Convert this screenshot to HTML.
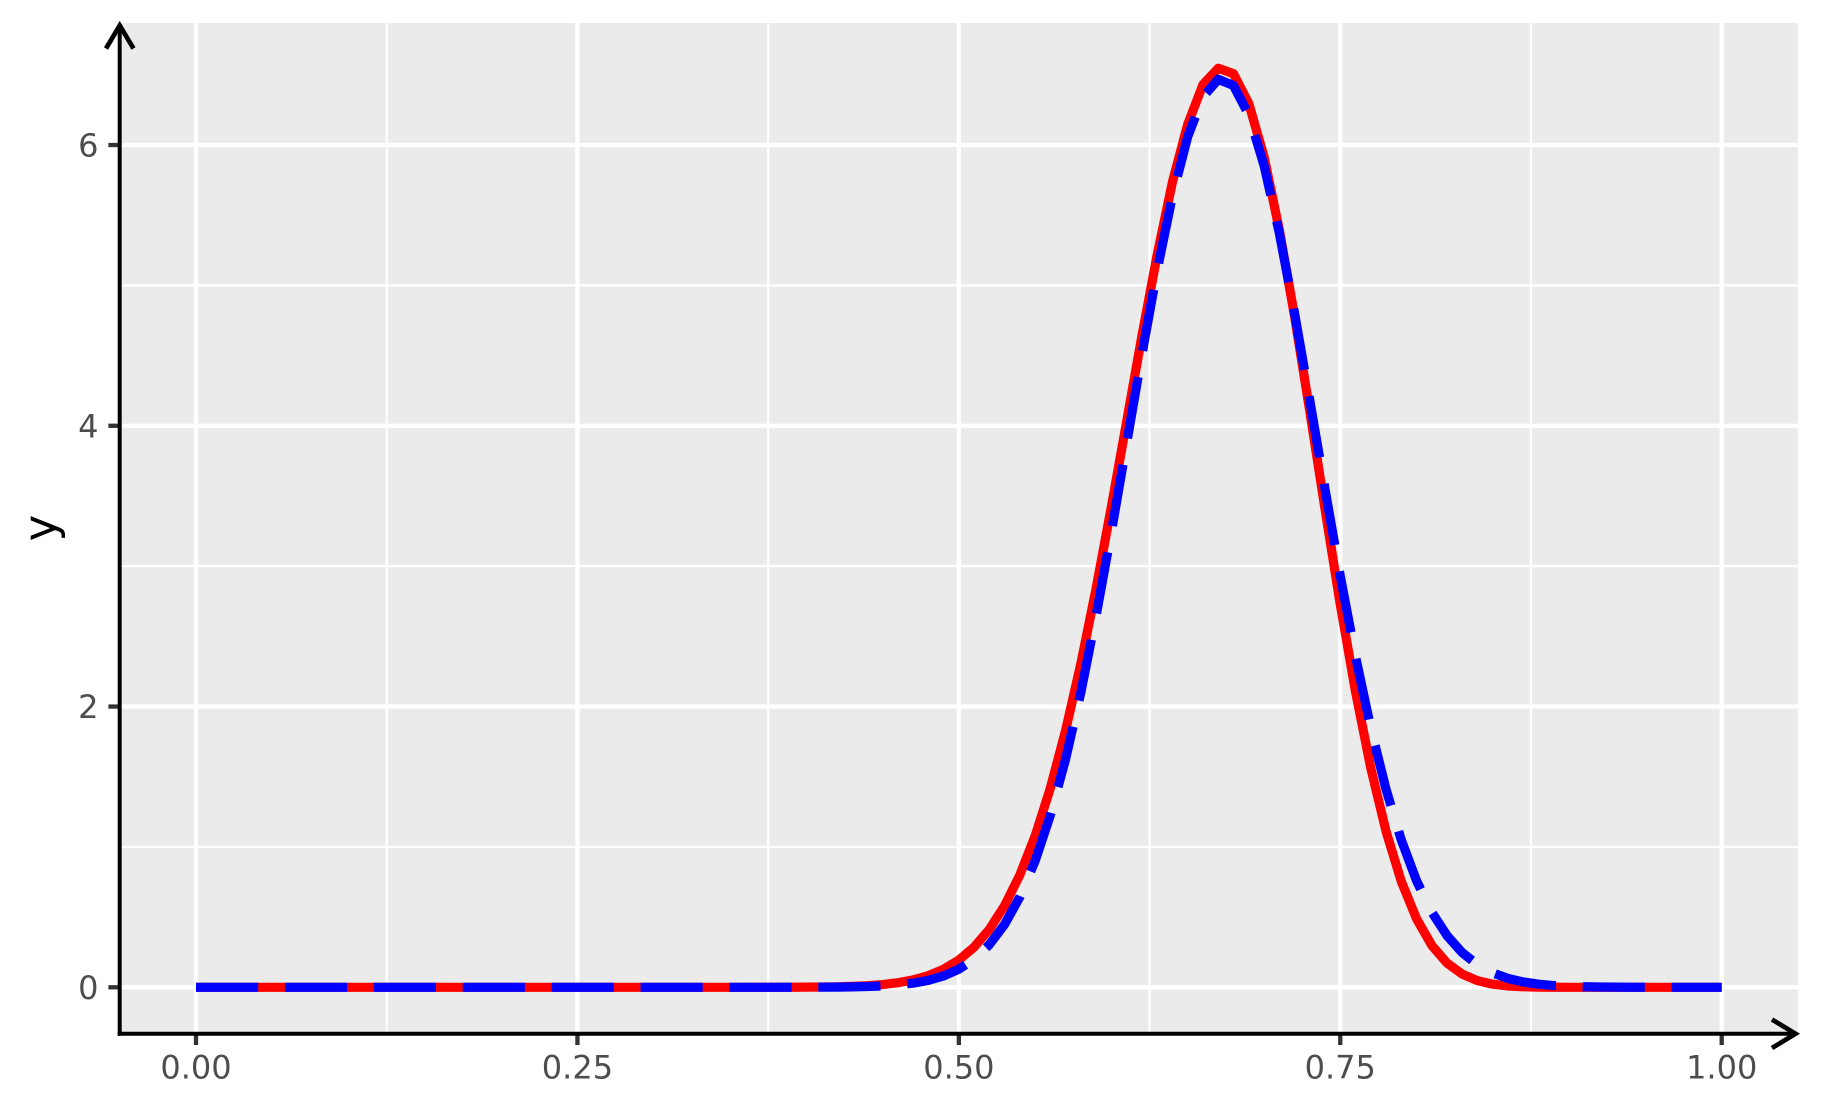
<!DOCTYPE html>
<html lang="en">
<head>
<meta charset="utf-8">
<title>Density curves</title>
<style>
html,body{margin:0;padding:0;background:#fff;width:1821px;height:1112px;overflow:hidden}
svg{display:block}
text{font-family:"DejaVu Sans","Liberation Sans",sans-serif}
</style>
</head>
<body>
<svg id="chart" xmlns="http://www.w3.org/2000/svg" width="1821" height="1112" viewBox="0 0 1821 1112">
  <rect x="0" y="0" width="1821" height="1112" fill="#ffffff"/>
  <rect x="119.7" y="23" width="1678.3" height="1010.7" fill="#ebebeb"/>
  <g id="grid-minor"></g>
  <g id="grid-major"></g>
  <g id="series"></g>
  <g id="ticks"></g>
  <g id="labels"></g>
  <g fill="none" stroke="#000" stroke-width="4">
    <line x1="119.7" y1="1035.7" x2="119.7" y2="26"/>
    <polyline points="106,48.5 119.7,25.5 133.5,48.5" stroke-width="4.7"/>
  </g>
  <g fill="none" stroke="#000" stroke-width="4">
    <line x1="117.7" y1="1033.7" x2="1794" y2="1033.7"/>
    <polyline points="1772,1019.5 1795.5,1033.7 1772,1048" stroke-width="4.7"/>
  </g>
  <text transform="translate(55.3,528) rotate(-90)" text-anchor="middle" font-size="45" fill="#000">y</text>
</svg>
<script>
const xValues = [0,0.01,0.02,0.03,0.04,0.05,0.06,0.07,0.08,0.09,0.1,0.11,0.12,0.13,0.14,0.15,0.16,0.17,0.18,0.19,0.2,0.21,0.22,0.23,0.24,0.25,0.26,0.27,0.28,0.29,0.3,0.31,0.32,0.33,0.34,0.35,0.36,0.37,0.38,0.39,0.4,0.41,0.42,0.43,0.44,0.45,0.46,0.47,0.48,0.49,0.5,0.51,0.52,0.53,0.54,0.55,0.56,0.57,0.58,0.59,0.6,0.61,0.62,0.63,0.64,0.65,0.66,0.67,0.68,0.69,0.7,0.71,0.72,0.73,0.74,0.75,0.76,0.77,0.78,0.79,0.8,0.81,0.82,0.83,0.84,0.85,0.86,0.87,0.88,0.89,0.9,0.91,0.92,0.93,0.94,0.95,0.96,0.97,0.98,0.99,1];
const redValues = [0,0,0,0,0,0,0,0,0,0,0,0,0,0,0,0,0,0,0,0,0,0,0,0,0,0,0,0,0,0,0,0,0,0,0,0.00003,0.00006,0.00012,0.00026,0.00053,0.00103,0.00196,0.00362,0.00652,0.01142,0.0195,0.0324,0.0526,0.0832,0.1286,0.1941,0.2862,0.4127,0.5816,0.8009,1.078,1.42,1.831,2.307,2.843,3.425,4.031,4.641,5.218,5.737,6.147,6.43,6.547,6.508,6.297,5.918,5.398,4.783,4.104,3.407,2.727,2.106,1.562,1.111,0.754,0.488,0.298,0.172,0.0934,0.0471,0.0219,0.0093,0.0036,0.0012,0.00036,0.00009,0.00002,0,0,0,0,0,0,0,0,0];
const blueValues = [0,0,0,0,0,0,0,0,0,0,0,0,0,0,0,0,0,0,0,0,0,0,0,0,0,0,0,0,0,0,0,0,0,0,0,0,0,0.00005,0.0001,0.0002,0.00037,0.00075,0.00148,0.00283,0.00528,0.00961,0.017,0.0294,0.0495,0.0811,0.1293,0.2008,0.304,0.448,0.644,0.9,1.227,1.627,2.103,2.648,3.246,3.875,4.508,5.108,5.637,6.059,6.343,6.468,6.424,6.215,5.856,5.375,4.804,4.182,3.548,2.93,2.357,1.847,1.41,1.049,0.759,0.535,0.368,0.246,0.16,0.102,0.0629,0.0379,0.0223,0.0127,0.0071,0.0038,0.002,0.001,0.0005,0.0003,0.0001,0.0001,0,0,0];
const xTickValues = [0,0.25,0.5,0.75,1];
const xTickLabels = ["0.00","0.25","0.50","0.75","1.00"];
const xMinorValues = [0.125,0.375,0.625,0.875];
const yTickValues = [0,2,4,6];
const yTickLabels = ["0","2","4","6"];
const yMinorValues = [1,3,5];

const NS = 'http://www.w3.org/2000/svg';
const panel = {left:119.7, right:1798, top:23, bottom:1033.7};
function xScale(v){ return 196 + v * 1525.7; }
function yScale(v){ return 987.3 - v * 140.38; }

function svgEl(tag, parent){
  const el = document.createElementNS(NS, tag);
  parent.appendChild(el);
  return el;
}
function setLine(el, x1, y1, x2, y2, stroke, width){
  el.setAttribute('x1', x1);
  el.setAttribute('y1', y1);
  el.setAttribute('x2', x2);
  el.setAttribute('y2', y2);
  el.setAttribute('stroke', stroke);
  el.setAttribute('stroke-width', width);
}

const gridMinor = document.getElementById('grid-minor');
const gridMajor = document.getElementById('grid-major');
const ticks = document.getElementById('ticks');
const labels = document.getElementById('labels');
const series = document.getElementById('series');

xMinorValues.forEach(function(v){
  const l = svgEl('line', gridMinor);
  
  
  setLine(l, xScale(v), panel.top, xScale(v), panel.bottom, '#ffffff', 2.2);
});
yMinorValues.forEach(function(v){
  const l = svgEl('line', gridMinor);
  
  
  setLine(l, panel.left, yScale(v), panel.right, yScale(v), '#ffffff', 2.2);
});
xTickValues.forEach(function(v, i){
  const g = svgEl('line', gridMajor);
  
  
  setLine(g, xScale(v), panel.top, xScale(v), panel.bottom, '#ffffff', 4.3);

  const t = svgEl('line', ticks);
  
  
  setLine(t, xScale(v), panel.bottom, xScale(v), panel.bottom + 11.3, '#333333', 4.3);

  const s = svgEl('text', labels);
  
  
  s.setAttribute('x', xScale(v));
  s.setAttribute('y', 1078.5);
  s.setAttribute('text-anchor', 'middle');
  s.setAttribute('font-size', '32');
  s.setAttribute('fill', '#4d4d4d');
  s.textContent = xTickLabels[i];
});
yTickValues.forEach(function(v, i){
  const g = svgEl('line', gridMajor);
  
  
  setLine(g, panel.left, yScale(v), panel.right, yScale(v), '#ffffff', 4.3);

  const t = svgEl('line', ticks);
  
  
  setLine(t, panel.left - 11.3, yScale(v), panel.left, yScale(v), '#333333', 4.3);

  const s = svgEl('text', labels);
  
  
  s.setAttribute('x', 98.5);
  s.setAttribute('y', yScale(v) + 11.7);
  s.setAttribute('text-anchor', 'end');
  s.setAttribute('font-size', '32');
  s.setAttribute('fill', '#4d4d4d');
  s.textContent = yTickLabels[i];
});

function linePoints(values){
  return values.map(function(v, i){
    return xScale(xValues[i]).toFixed(2) + ',' + yScale(v).toFixed(2);
  }).join(' ');
}

const redLine = svgEl('polyline', series);


redLine.setAttribute('points', linePoints(redValues));
redLine.setAttribute('fill', 'none');
redLine.setAttribute('stroke', '#ff0000');
redLine.setAttribute('stroke-width', '9.2');
redLine.setAttribute('stroke-linejoin', 'round');

const blueLine = svgEl('polyline', series);


blueLine.setAttribute('points', linePoints(blueValues));
blueLine.setAttribute('fill', 'none');
blueLine.setAttribute('stroke', '#0000ff');
blueLine.setAttribute('stroke-width', '9.2');
blueLine.setAttribute('stroke-linejoin', 'round');
blueLine.setAttribute('stroke-dasharray', '62.15 26.75');
</script>
</body>
</html>
